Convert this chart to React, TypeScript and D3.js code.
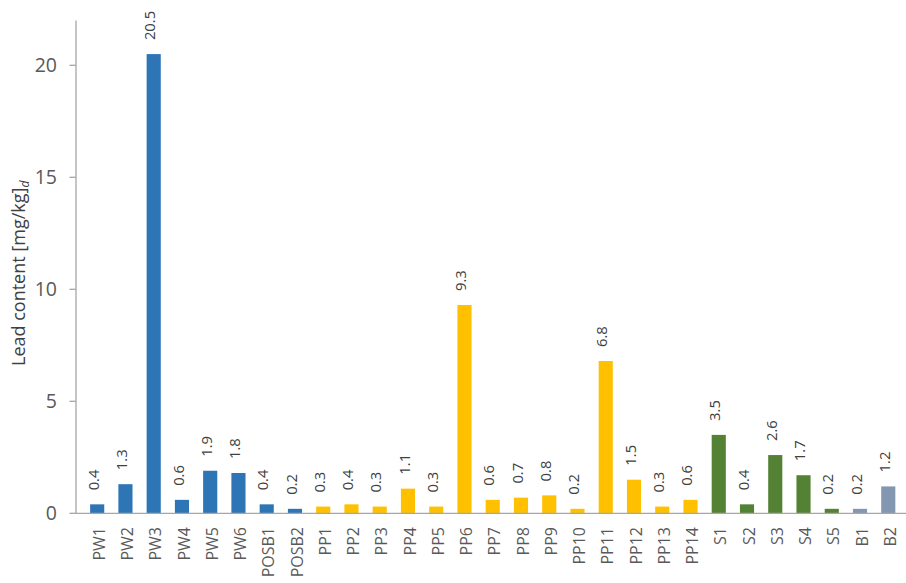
import React from "react";
import * as d3 from "d3";

const categories = [
  "PW1", "PW2", "PW3", "PW4", "PW5", "PW6", "POSB1", "POSB2",
  "PP1", "PP2", "PP3", "PP4", "PP5", "PP6", "PP7", "PP8", "PP9", "PP10", "PP11", "PP12", "PP13", "PP14",
  "S1", "S2", "S3", "S4", "S5", "B1", "B2",
];
const values = [
  0.4, 1.3, 20.5, 0.6, 1.9, 1.8, 0.4, 0.2,
  0.3, 0.4, 0.3, 1.1, 0.3, 9.3, 0.6, 0.7, 0.8, 0.2, 6.8, 1.5, 0.3, 0.6,
  3.5, 0.4, 2.6, 1.7, 0.2, 0.2, 1.2,
];
const groups = [
  "PW", "PW", "PW", "PW", "PW", "PW", "PW", "PW",
  "PP", "PP", "PP", "PP", "PP", "PP", "PP", "PP", "PP", "PP", "PP", "PP", "PP", "PP",
  "S", "S", "S", "S", "S", "B", "B",
];
const groupNames = ["PW", "PP", "S", "B"];
const groupColors = ["#2E75B6", "#FFC000", "#548235", "#8497B0"];
const yTicks = [0, 5, 10, 15, 20];

const W = 906;
const H = 583;
const axisX = 76;
const baseY = 513.3;
const font = "'Open Sans', 'DejaVu Sans', sans-serif";

export default function App() {
  const x = d3.scaleBand<string>().domain(categories).range([axisX, axisX + 29 * 28.74]).padding(0.5);
  const y = d3.scaleLinear().domain([0, 22]).range([baseY, baseY - 22 * 22.4]);
  const color = d3.scaleOrdinal<string, string>().domain(groupNames).range(groupColors);
  const bw = x.bandwidth();

  return (
    <svg width={W} height={H} style={{ position: "absolute", left: 0, top: 0, fontFamily: font }}>
      <rect x={0} y={0} width={W} height={H} fill="#ffffff" />
      {/* bars */}
      {categories.map((c, i) => (
        <rect key={c} x={x(c)} y={y(values[i])} width={bw} height={baseY - y(values[i])} fill={color(groups[i])} />
      ))}
      {/* value labels */}
      {categories.map((c, i) => {
        const cx = (x(c) as number) + bw / 2 - 3.5;
        const ty = y(values[i]) - 14;
        return (
          <text key={"v" + c} transform={`translate(${cx},${ty}) rotate(-90)`} dy="0.35em" fontSize={14.8} fill="#404040">
            {values[i].toFixed(1)}
          </text>
        );
      })}
      {/* y axis */}
      <line x1={axisX} x2={axisX} y1={y(22)} y2={baseY} stroke="#a6a6a6" strokeWidth={1.3} />
      {yTicks.map((t) => (
        <g key={t}>
          <line x1={axisX - 6.5} x2={axisX} y1={y(t)} y2={y(t)} stroke="#a6a6a6" strokeWidth={1.3} />
          <text x={57} y={y(t)} dy="0.35em" textAnchor="end" fontSize={19.5} fill="#595959">
            {t}
          </text>
        </g>
      ))}
      {/* x axis */}
      <line x1={axisX} x2={W} y1={baseY} y2={baseY} stroke="#a6a6a6" strokeWidth={1.3} />
      {categories.map((c) => {
        const cx = (x(c) as number) + bw / 2 + 2;
        return (
          <text key={"x" + c} transform={`translate(${cx},527) rotate(-90)`} dy="0.35em" textAnchor="end" fontSize={16} fill="#595959">
            {c}
          </text>
        );
      })}
      {/* y title */}
      <text transform="translate(25,366) rotate(-90)" textAnchor="start" fontSize={18} fill="#404040">
        Lead content [mg/kg]
        <tspan fontStyle="italic" fontSize={12} dy="4">d</tspan>
      </text>
    </svg>
  );
}
